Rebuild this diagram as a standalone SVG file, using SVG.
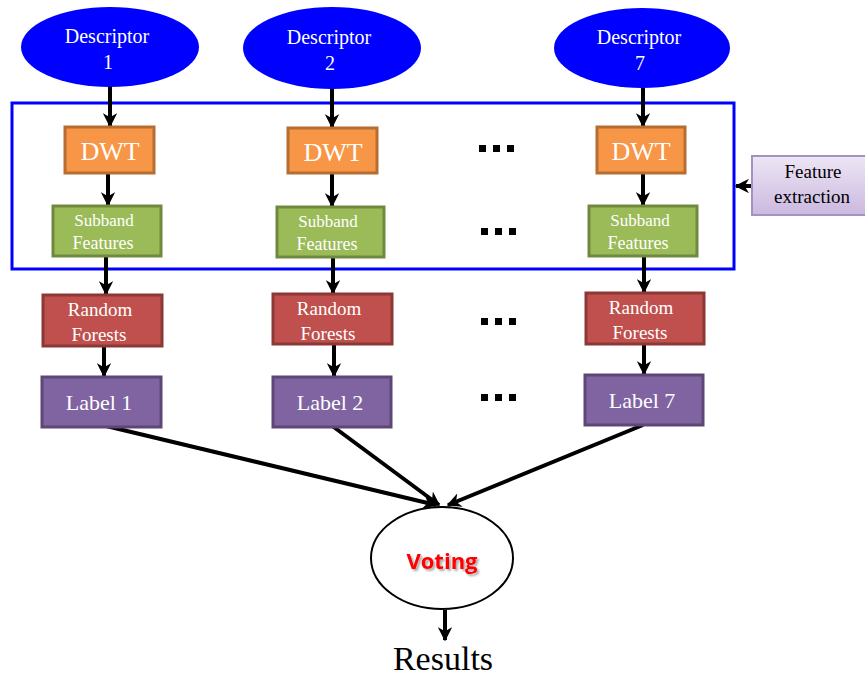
<svg xmlns="http://www.w3.org/2000/svg" width="865" height="678" viewBox="0 0 865 678">
<style>
.t{font-family:"Liberation Serif","Times New Roman",serif;fill:#fff;text-anchor:middle}
.desc{fill:#0000ff}
.dwt{fill:#f79646;stroke:#b66d31;stroke-width:3}
.sub{fill:#9bbb59;stroke:#71893f;stroke-width:3}
.rf{fill:#c0504d;stroke:#8c3836;stroke-width:3}
.lab{fill:#8064a2;stroke:#5c4776;stroke-width:3}
.c line{stroke:#000;stroke-width:4;marker-end:url(#ah)}
.dots{fill:#000}
</style>
<defs>
<marker id="ah" viewBox="0 0 10 10" refX="9" refY="5" markerWidth="3.6" markerHeight="3.6" orient="auto" markerUnits="strokeWidth">
<path d="M0,0 L10,5 L0,10 L3,5 Z" fill="#000"/>
</marker>
<linearGradient id="fe" x1="0" y1="0" x2="0" y2="1">
<stop offset="0" stop-color="#ede6f5"/>
<stop offset="1" stop-color="#cbb8df"/>
</linearGradient>
<filter id="sh" x="-20%" y="-20%" width="140%" height="140%">
<feGaussianBlur in="SourceAlpha" stdDeviation="1.2"/>
<feOffset dx="1.5" dy="2" result="b"/>
<feComponentTransfer><feFuncA type="linear" slope="0.35"/></feComponentTransfer>
<feMerge><feMergeNode/><feMergeNode in="SourceGraphic"/></feMerge>
</filter>
</defs>
<rect width="865" height="678" fill="#fff"/>

<g id="feature-box">
<rect x="12" y="103" width="722" height="166" fill="none" stroke="#0000ff" stroke-width="3"/>
</g>

<g class="c" id="connectors">
<line x1="110" y1="86" x2="110" y2="126"/>
<line x1="108" y1="173" x2="108" y2="205"/>
<line x1="106" y1="256" x2="106" y2="294"/>
<line x1="104" y1="346" x2="104" y2="376"/>
<line x1="332" y1="88" x2="332" y2="127"/>
<line x1="332" y1="173" x2="332" y2="206"/>
<line x1="333" y1="257" x2="333" y2="293"/>
<line x1="334" y1="344" x2="334" y2="376"/>
<line x1="643" y1="88" x2="643" y2="126"/>
<line x1="643" y1="173" x2="643" y2="205"/>
<line x1="644" y1="256" x2="644" y2="292"/>
<line x1="644" y1="344" x2="644" y2="374"/>
<line x1="752" y1="186" x2="736" y2="186"/>
<line x1="102" y1="425" x2="436" y2="505"/>
<line x1="331" y1="425" x2="439" y2="505"/>
<line x1="643" y1="425" x2="448" y2="505"/>
<line x1="445" y1="610" x2="445" y2="640"/>
</g>

<g id="desc1"><ellipse class="desc" cx="110" cy="47" rx="89" ry="40"/>
<text class="t" x="107" y="43" font-size="20">Descriptor</text><text class="t" x="108" y="69" font-size="20">1</text></g>
<g id="desc2"><ellipse class="desc" cx="332" cy="48" rx="89" ry="41"/>
<text class="t" x="329" y="44" font-size="20">Descriptor</text><text class="t" x="330" y="70" font-size="20">2</text></g>
<g id="desc7"><ellipse class="desc" cx="642" cy="48" rx="88" ry="40"/>
<text class="t" x="639" y="44" font-size="20">Descriptor</text><text class="t" x="640" y="70" font-size="20">7</text></g>

<g id="dwt1"><rect class="dwt" x="65" y="127" width="89" height="46"/><text class="t" x="110" y="160" font-size="26">DWT</text></g>
<g id="dwt2"><rect class="dwt" x="288" y="128" width="89" height="45"/><text class="t" x="333" y="161" font-size="26">DWT</text></g>
<g id="dwt7"><rect class="dwt" x="597" y="127" width="88" height="46"/><text class="t" x="641" y="160" font-size="26">DWT</text></g>

<g id="sub1"><rect class="sub" x="53" y="206" width="108" height="50"/><text class="t" x="104" y="226" font-size="17">Subband</text><text class="t" x="103" y="249" font-size="18">Features</text></g>
<g id="sub2"><rect class="sub" x="277" y="207" width="107" height="50"/><text class="t" x="328" y="227" font-size="17">Subband</text><text class="t" x="327" y="250" font-size="18">Features</text></g>
<g id="sub7"><rect class="sub" x="589" y="206" width="108" height="50"/><text class="t" x="640" y="226" font-size="17">Subband</text><text class="t" x="638" y="249" font-size="18">Features</text></g>

<g id="rf1"><rect class="rf" x="43" y="295" width="119" height="51"/><text class="t" x="100" y="316" font-size="19">Random</text><text class="t" x="99" y="341" font-size="19">Forests</text></g>
<g id="rf2"><rect class="rf" x="273" y="294" width="119" height="50"/><text class="t" x="329" y="315" font-size="19">Random</text><text class="t" x="328" y="340" font-size="19">Forests</text></g>
<g id="rf7"><rect class="rf" x="586" y="293" width="118" height="51"/><text class="t" x="641" y="314" font-size="19">Random</text><text class="t" x="640" y="339" font-size="19">Forests</text></g>

<g id="label1"><rect class="lab" x="42" y="377" width="119" height="50"/><text class="t" x="99" y="410" font-size="22">Label 1</text></g>
<g id="label2"><rect class="lab" x="273" y="377" width="118" height="50"/><text class="t" x="330" y="410" font-size="22">Label 2</text></g>
<g id="label7"><rect class="lab" x="585" y="375" width="118" height="50"/><text class="t" x="642" y="408" font-size="22">Label 7</text></g>

<g id="dots" class="dots">
<rect x="479" y="145" width="7" height="7"/><rect x="493" y="145" width="7" height="7"/><rect x="507" y="145" width="7" height="7"/>
<rect x="481" y="228" width="7" height="7"/><rect x="495" y="228" width="7" height="7"/><rect x="509" y="228" width="7" height="7"/>
<rect x="481" y="318" width="7" height="7"/><rect x="495" y="318" width="7" height="7"/><rect x="509" y="318" width="7" height="7"/>
<rect x="481" y="394" width="7" height="7"/><rect x="495" y="394" width="7" height="7"/><rect x="509" y="394" width="7" height="7"/>
</g>

<g id="feature-extraction"><rect x="752" y="156" width="116" height="59" fill="url(#fe)" stroke="#a58fc3" stroke-width="2"/>
<text x="813" y="178" font-size="19" text-anchor="middle" font-family="Liberation Serif,serif" fill="#000">Feature</text>
<text x="812" y="203" font-size="19" text-anchor="middle" font-family="Liberation Serif,serif" fill="#000">extraction</text></g>

<g id="voting"><ellipse cx="442" cy="558" rx="71" ry="51" fill="#fff" stroke="#000" stroke-width="2"/>
<text x="442" y="569" font-size="22" font-weight="bold" text-anchor="middle" font-family="Open Sans,Liberation Sans,sans-serif" fill="#ff0000" filter="url(#sh)">Voting</text></g>

<g id="results"><text x="443" y="670" font-size="34" text-anchor="middle" font-family="Liberation Serif,serif" fill="#000">Results</text></g>
</svg>
